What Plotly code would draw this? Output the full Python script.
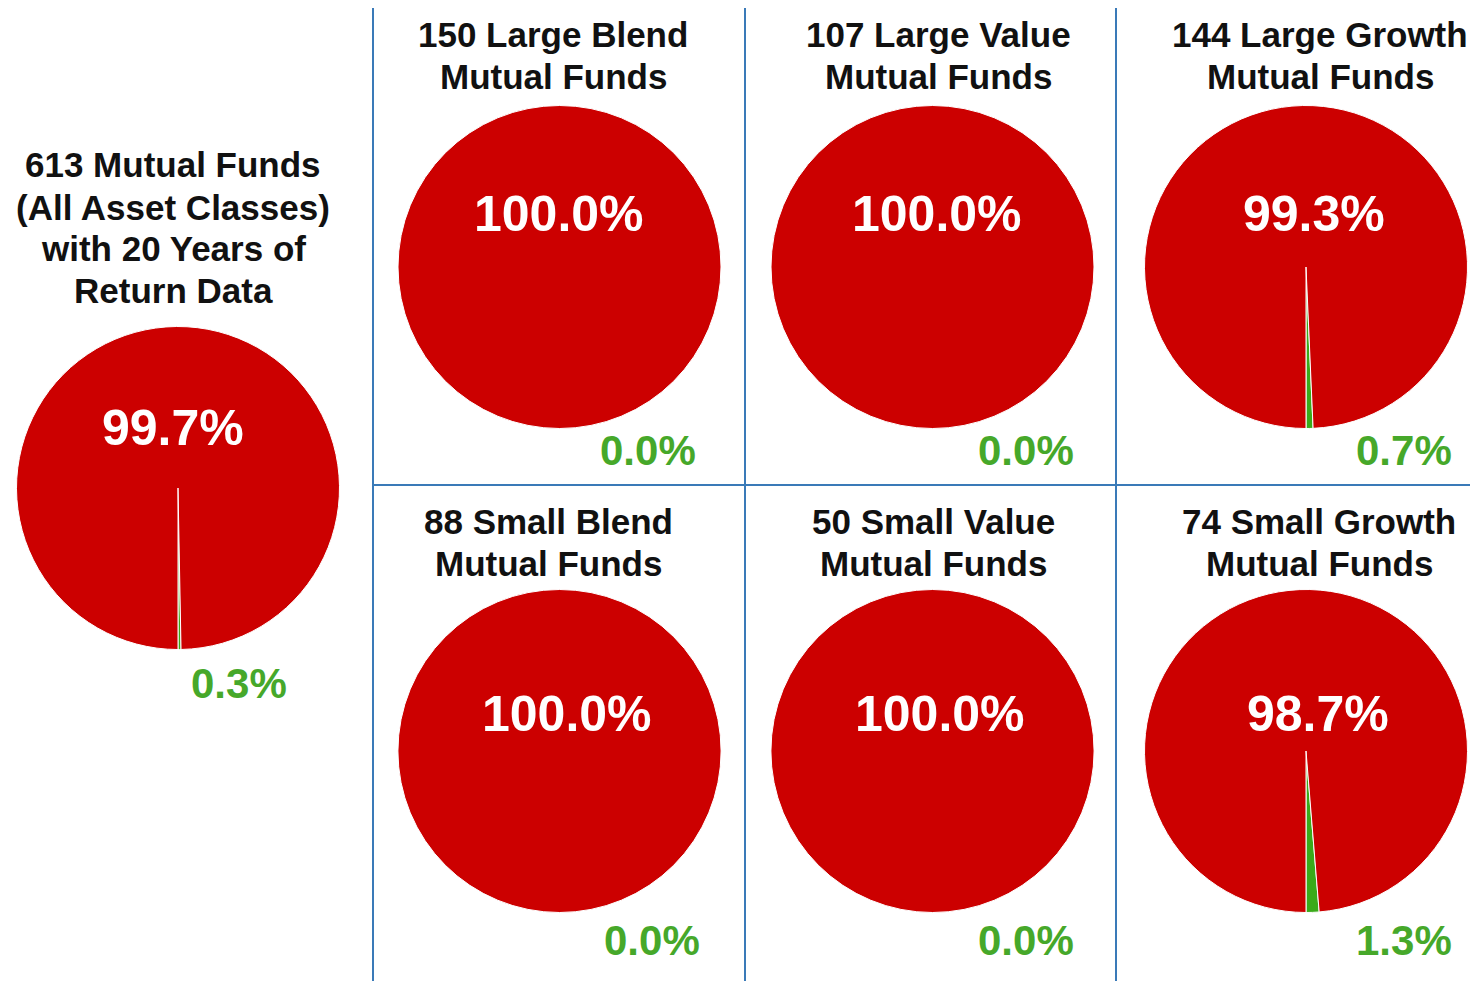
import plotly.graph_objects as go

# ---- data ----
titles = [
    ["613 Mutual Funds", "(All Asset Classes)", "with 20 Years of", "Return Data"],
    ["150 Large Blend", "Mutual Funds"],
    ["107 Large Value", "Mutual Funds"],
    ["144 Large Growth", "Mutual Funds"],
    ["88 Small Blend", "Mutual Funds"],
    ["50 Small Value", "Mutual Funds"],
    ["74 Small Growth", "Mutual Funds"],
]
pct_red = [99.7, 100.0, 100.0, 99.3, 100.0, 100.0, 98.7]
pct_green = [0.3, 0.0, 0.0, 0.7, 0.0, 0.0, 1.3]

# ---- layout helpers ----
OFF = 8  # page body margin
W, H = 1478 - OFF, 981 - OFF
RED = "#cc0000"
GREEN = "#3aaa1a"
LABEL_GREEN = "#46a82a"
BLUE = "#3a7ab8"
FONT = "Liberation Sans, Arial, sans-serif"


def px(x):
    return (x - OFF) / W


def py(y):
    return 1 - (y - OFF) / H


# pie centres (page px) and radius
centres = [(178, 488), (559.5, 267), (932.5, 267), (1306, 267),
           (559.5, 751), (932.5, 751), (1306, 751)]
R = 161.5
title_pos = [(173, 165), (553, 34), (938, 34), (1320, 34),
             (548, 521), (933, 521), (1319, 521)]
LINE_H = 42
red_label_pos = [(173, 428), (559, 214), (937, 214), (1314, 214),
                 (567, 714), (940, 714), (1318, 714)]
green_label_pos = [(239, 683), (648, 450), (1026, 450), (1404, 450),
                   (652, 940), (1026, 940), (1404, 940)]

fig = go.Figure()
annotations = []
for i in range(len(titles)):
    cx, cy = centres[i]
    g = pct_green[i]
    g_deg = g / 100 * 360
    fig.add_trace(go.Pie(
        values=[g, pct_red[i]],
        labels=["green", "red"],
        marker=dict(colors=[GREEN, RED], line=dict(color="white", width=1)),
        sort=False,
        direction="clockwise",
        rotation=180 - g_deg,
        textinfo="none",
        hoverinfo="label+percent",
        showlegend=False,
        domain=dict(x=[px(cx - R), px(cx + R)],
                    y=[py(cy + R), py(cy - R)]),
    ))
    tx, ty = title_pos[i]
    for k, line in enumerate(titles[i]):
        annotations.append(dict(
            x=px(tx), y=py(ty + k * LINE_H), xref="paper", yref="paper",
            text=f"<b>{line}</b>", showarrow=False,
            xanchor="center", yanchor="middle",
            font=dict(family=FONT, size=35, color="#111111"),
        ))
    rx, ry = red_label_pos[i]
    annotations.append(dict(
        x=px(rx), y=py(ry), xref="paper", yref="paper",
        text=f"<b>{pct_red[i]:.1f}%</b>", showarrow=False,
        xanchor="center", yanchor="middle",
        font=dict(family=FONT, size=50, color="white"),
    ))
    gx, gy = green_label_pos[i]
    annotations.append(dict(
        x=px(gx), y=py(gy), xref="paper", yref="paper",
        text=f"<b>{pct_green[i]:.1f}%</b>", showarrow=False,
        xanchor="center", yanchor="middle",
        font=dict(family=FONT, size=42, color=LABEL_GREEN),
    ))

shapes = []
for x in [373, 745, 1116]:
    shapes.append(dict(type="line", xref="paper", yref="paper",
                       x0=px(x), x1=px(x), y0=1, y1=0,
                       line=dict(color=BLUE, width=2)))
shapes.append(dict(type="line", xref="paper", yref="paper",
                   x0=px(373), x1=1, y0=py(485), y1=py(485),
                   line=dict(color=BLUE, width=2)))

fig.update_layout(
    width=W, height=H,
    margin=dict(l=0, r=0, t=0, b=0),
    paper_bgcolor="white", plot_bgcolor="white",
    annotations=annotations,
    shapes=shapes,
)

fig.write_html("out.html")
